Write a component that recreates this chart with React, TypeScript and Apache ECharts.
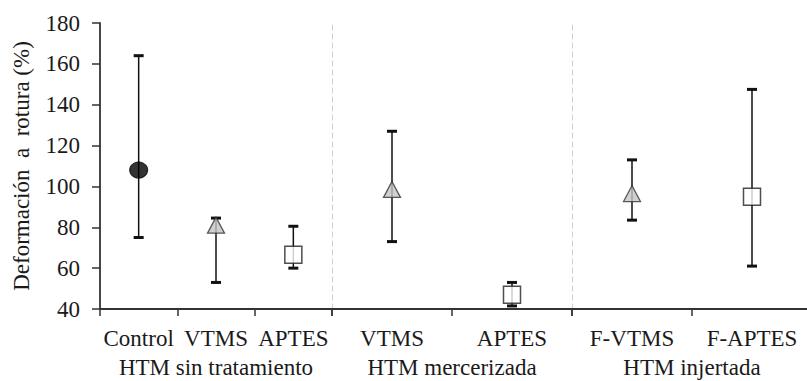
import React, { useEffect, useRef } from "react";
import * as echarts from "echarts";

const groupNames = ["HTM sin tratamiento", "HTM mercerizada", "HTM injertada"];
const categoriesG1 = ["Control", "VTMS", "APTES"];
const categoriesG2 = ["VTMS", "APTES"];
const categoriesG3 = ["F-VTMS", "F-APTES"];

const meanG1 = [108, 81, 66.5];
const lowG1 = [75, 53, 60];
const highG1 = [164, 84.5, 80.5];

const meanG2 = [98.5, 47];
const lowG2 = [73, 41.5];
const highG2 = [127, 53];

const meanG3 = [96.5, 95];
const lowG3 = [83.5, 61];
const highG3 = [113, 147.5];

const symbolsG1 = ["circle", "triangle", "rect"];
const symbolsG2 = ["triangle", "rect"];
const symbolsG3 = ["triangle", "rect"];

const yTicks = { min: 40, max: 180, interval: 20 };

const FONT = "'Liberation Serif', 'Times New Roman', serif";
const AXIS_COLOR = "#333";
const TEXT_COLOR = "#1a1a1a";

function markerStyle(sym: string) {
  if (sym === "circle") return { symbolSize: [18, 16], itemStyle: { color: "#000", borderColor: "#000", borderWidth: 1 } };
  if (sym === "triangle") return { symbolSize: [17, 16], itemStyle: { color: "#c4c4c4", borderColor: "#333", borderWidth: 1.3 } };
  return { symbolSize: [17, 17], itemStyle: { color: "#fff", borderColor: "#222", borderWidth: 1.5 } };
}

export default function App() {
  const ref = useRef<HTMLDivElement>(null);
  useEffect(() => {
    if (!ref.current) return;
    const chart = echarts.init(ref.current, undefined, { renderer: "svg" });
    const groups = [
      { cats: categoriesG1, mean: meanG1, low: lowG1, high: highG1, syms: symbolsG1 },
      { cats: categoriesG2, mean: meanG2, low: lowG2, high: highG2, syms: symbolsG2 },
      { cats: categoriesG3, mean: meanG3, low: lowG3, high: highG3, syms: symbolsG3 },
    ];
    const gridLefts = [100, 332, 572];
    const gridWidths = [232, 240, 240];
    const grid = gridLefts.map((l, i) => ({
      left: l,
      width: gridWidths[i],
      top: 23,
      bottom: 72,
      containLabel: false,
      outerBoundsMode: "none",
    }));
    const xAxis = groups.map((g, i) => ({
      type: "category",
      gridIndex: i,
      data: g.cats,
      boundaryGap: true,
      name: groupNames[i],
      nameLocation: "middle",
      nameGap: 47,
      nameTextStyle: { fontFamily: FONT, fontSize: 23, color: TEXT_COLOR },
      axisLine: { show: true, lineStyle: { color: AXIS_COLOR, width: 1.8 } },
      axisTick: { show: true, length: 7, inside: false, lineStyle: { color: AXIS_COLOR, width: 1.5 } },
      axisLabel: { fontFamily: FONT, fontSize: 23, color: TEXT_COLOR, margin: 18, interval: 0 },
      splitLine: { show: false },
    }));
    const yAxis = groups.map((_, i) => ({
      type: "value",
      gridIndex: i,
      min: yTicks.min,
      max: yTicks.max,
      interval: yTicks.interval,
      name: i === 0 ? "Deformación  a  rotura (%)" : "",
      nameLocation: "middle",
      nameGap: 67,
      nameTextStyle: { fontFamily: FONT, fontSize: 23, color: TEXT_COLOR },
      axisLine:
        i === 0
          ? { show: true, lineStyle: { color: AXIS_COLOR, width: 1.8 } }
          : { show: true, lineStyle: { color: "#cfcfcf", width: 1, type: [5, 4] } },
      axisTick: i === 0 ? { show: true, length: 8, inside: false, lineStyle: { color: AXIS_COLOR, width: 1.5 } } : { show: false },
      axisLabel: i === 0 ? { show: true, fontFamily: FONT, fontSize: 23, color: TEXT_COLOR, margin: 20 } : { show: false },
      splitLine: { show: false },
    }));
    const series: any[] = [];
    groups.forEach((g, i) => {
      series.push({
        type: "custom",
        xAxisIndex: i,
        yAxisIndex: i,
        z: 2,
        data: g.cats.map((_, k) => [k, g.low[k], g.high[k]]),
        renderItem: (params: any, api: any) => {
          const x = api.value(0);
          const lo = api.coord([x, api.value(1)]);
          const hi = api.coord([x, api.value(2)]);
          const w = 5;
          const stroke = "#111";
          return {
            type: "group",
            children: [
              { type: "line", shape: { x1: lo[0], y1: lo[1], x2: hi[0], y2: hi[1] }, style: { stroke, lineWidth: 1.5 } },
              { type: "line", shape: { x1: lo[0] - w, y1: lo[1], x2: lo[0] + w, y2: lo[1] }, style: { stroke, lineWidth: 3 } },
              { type: "line", shape: { x1: hi[0] - w, y1: hi[1], x2: hi[0] + w, y2: hi[1] }, style: { stroke, lineWidth: 3 } },
            ],
          };
        },
      });
      series.push({
        type: "scatter",
        xAxisIndex: i,
        yAxisIndex: i,
        z: 5,
        data: g.cats.map((c, k) => {
          const m = markerStyle(g.syms[k]);
          return { value: [k, g.mean[k]], symbol: g.syms[k], symbolSize: m.symbolSize, itemStyle: m.itemStyle };
        }),
      });
    });
    chart.setOption({
      animation: false,
      backgroundColor: "#fff",
      textStyle: { fontFamily: FONT },
      grid,
      xAxis,
      yAxis,
      series,
    } as any);
    return () => chart.dispose();
  }, []);
  return <div ref={ref} style={{ position: "absolute", left: 0, top: 0, width: 807, height: 381 }} />;
}
